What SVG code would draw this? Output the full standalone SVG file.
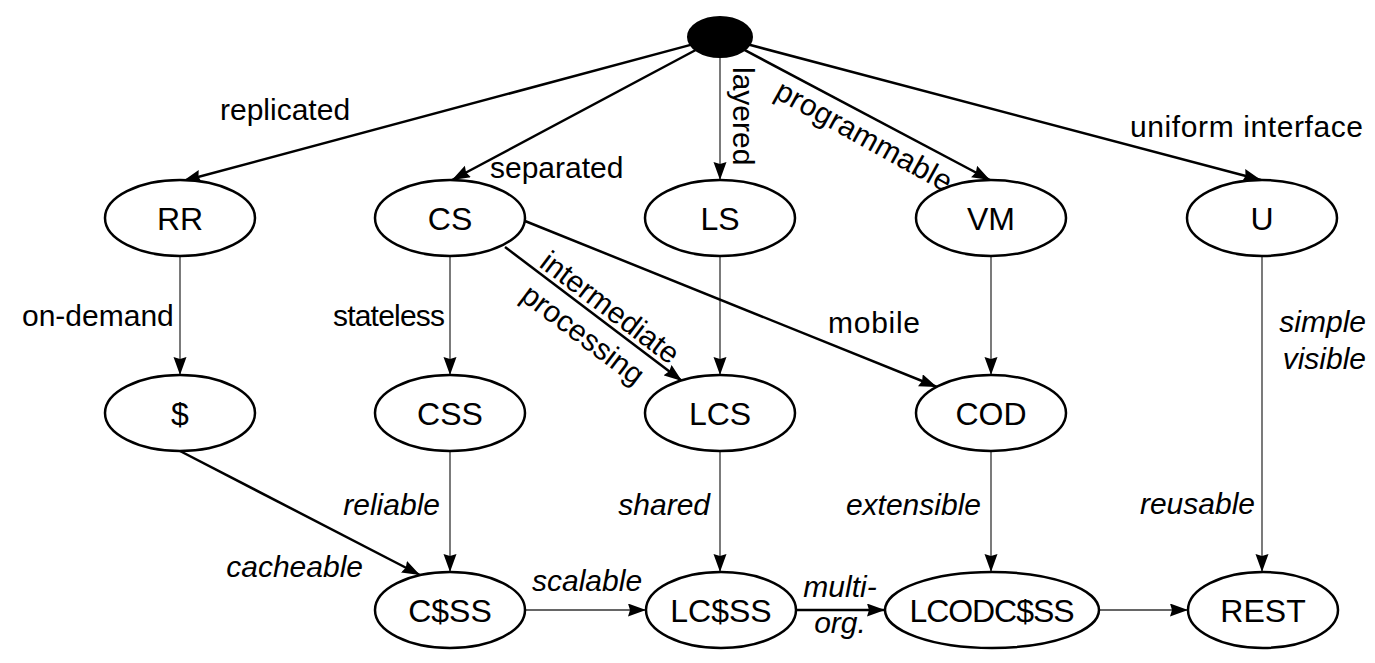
<svg xmlns="http://www.w3.org/2000/svg" width="1375" height="663" viewBox="0 0 1375 663">
<style>
.node ellipse{fill:#fff;stroke:#000;stroke-width:2.5}
.node text{font-family:"Liberation Sans",Arial,sans-serif;font-size:32px;text-anchor:middle;fill:#000}
.lbl{font-family:"Liberation Sans",Arial,sans-serif;font-size:30px;fill:#000}
.it{font-style:italic}
.thick{stroke:#000;stroke-width:2.5;fill:none}
.thin{stroke:#333;stroke-width:1.3;fill:none}
</style>
<defs>
<marker id="ah" markerUnits="userSpaceOnUse" markerWidth="20" markerHeight="14" refX="18" refY="6.5" orient="auto">
<path d="M0,0 L18,6.5 L0,13 L2,6.5 Z" fill="#000"/>
</marker>
</defs>
<rect width="1375" height="663" fill="#fff"/>
<g id="connectors">
<line class="thick" x1="690.6" y1="44.9" x2="183" y2="181" marker-end="url(#ah)"/>
<line class="thick" x1="695.7" y1="50" x2="452" y2="180" marker-end="url(#ah)"/>
<line class="thin" x1="720" y1="57" x2="720" y2="180" marker-end="url(#ah)"/>
<line class="thick" x1="744.4" y1="49.9" x2="990" y2="180" marker-end="url(#ah)"/>
<line class="thick" x1="749.5" y1="44.8" x2="1261" y2="180" marker-end="url(#ah)"/>
<line class="thin" x1="180" y1="256" x2="180" y2="375" marker-end="url(#ah)"/>
<line class="thin" x1="450" y1="256" x2="450" y2="375" marker-end="url(#ah)"/>
<line class="thin" x1="720" y1="256" x2="720" y2="375" marker-end="url(#ah)"/>
<line class="thin" x1="991" y1="256" x2="991" y2="375" marker-end="url(#ah)"/>
<line class="thin" x1="1262" y1="256" x2="1262" y2="572" marker-end="url(#ah)"/>
<line class="thick" x1="505" y1="247" x2="682" y2="381" marker-end="url(#ah)"/>
<line class="thick" x1="525" y1="221" x2="937" y2="387" marker-end="url(#ah)"/>
<line class="thick" x1="180" y1="451" x2="420" y2="575" marker-end="url(#ah)"/>
<line class="thin" x1="450" y1="451" x2="450" y2="572" marker-end="url(#ah)"/>
<line class="thin" x1="720" y1="451" x2="720" y2="572" marker-end="url(#ah)"/>
<line class="thin" x1="991" y1="451" x2="991" y2="572" marker-end="url(#ah)"/>
<line class="thin" x1="525" y1="610" x2="646" y2="610" marker-end="url(#ah)"/>
<line class="thick" x1="796" y1="610" x2="885" y2="610" marker-end="url(#ah)"/>
<line class="thin" x1="1099" y1="610" x2="1188" y2="610" marker-end="url(#ah)"/>
</g>
<g id="edge-labels">
<text class="lbl" x="220" y="120">replicated</text>
<text class="lbl" x="490" y="178">separated</text>
<text class="lbl" transform="translate(733,67) rotate(90)">layered</text>
<text class="lbl" transform="translate(773,97) rotate(29)" textLength="197">programmable</text>
<text class="lbl" x="1130" y="137" textLength="233">uniform interface</text>
<text class="lbl" x="22" y="326">on-demand</text>
<text class="lbl" x="333" y="326" textLength="112">stateless</text>
<text class="lbl" transform="translate(538,266) rotate(37)">intermediate</text>
<text class="lbl" transform="translate(519,299) rotate(37)">processing</text>
<text class="lbl" x="828" y="333" textLength="92">mobile</text>
<text class="lbl it" x="1366" y="332" text-anchor="end">simple</text>
<text class="lbl it" x="1366" y="369" text-anchor="end">visible</text>
<text class="lbl it" x="440" y="515" text-anchor="end">reliable</text>
<text class="lbl it" x="363" y="577" text-anchor="end">cacheable</text>
<text class="lbl it" x="710" y="515" text-anchor="end">shared</text>
<text class="lbl it" x="981" y="515" text-anchor="end">extensible</text>
<text class="lbl it" x="1255" y="514" text-anchor="end">reusable</text>
<text class="lbl it" x="532" y="591">scalable</text>
<text class="lbl it" x="840" y="597" text-anchor="middle">multi-</text>
<text class="lbl it" x="840" y="633" text-anchor="middle">org.</text>
</g>
<g id="root"><ellipse cx="720" cy="37" rx="32" ry="20" fill="#000" stroke="#000" stroke-width="2"/></g>
<g id="RR" class="node"><ellipse cx="180" cy="218" rx="75" ry="38"/><text x="180" y="230">RR</text></g>
<g id="CS" class="node"><ellipse cx="450" cy="218" rx="75" ry="38"/><text x="450" y="230">CS</text></g>
<g id="LS" class="node"><ellipse cx="720" cy="218" rx="75" ry="38"/><text x="720" y="230">LS</text></g>
<g id="VM" class="node"><ellipse cx="991" cy="218" rx="75" ry="38"/><text x="991" y="230">VM</text></g>
<g id="U" class="node"><ellipse cx="1262" cy="218" rx="75" ry="38"/><text x="1262" y="230">U</text></g>
<g id="Cache" class="node"><ellipse cx="180" cy="413" rx="75" ry="38"/><text x="180" y="425">$</text></g>
<g id="CSS" class="node"><ellipse cx="450" cy="413" rx="75" ry="38"/><text x="450" y="425">CSS</text></g>
<g id="LCS" class="node"><ellipse cx="720" cy="413" rx="75" ry="38"/><text x="720" y="425">LCS</text></g>
<g id="COD" class="node"><ellipse cx="991" cy="413" rx="75" ry="38"/><text x="991" y="425">COD</text></g>
<g id="CCSS" class="node"><ellipse cx="450" cy="610" rx="75" ry="38"/><text x="450" y="622">C$SS</text></g>
<g id="LCCSS" class="node"><ellipse cx="721" cy="610" rx="75" ry="38"/><text x="721" y="622">LC$SS</text></g>
<g id="LCODCCSS" class="node"><ellipse cx="992" cy="610" rx="107" ry="38"/><text x="992" y="622" textLength="165">LCODC$SS</text></g>
<g id="REST" class="node"><ellipse cx="1263" cy="610" rx="75" ry="38"/><text x="1263" y="622">REST</text></g>
</svg>
